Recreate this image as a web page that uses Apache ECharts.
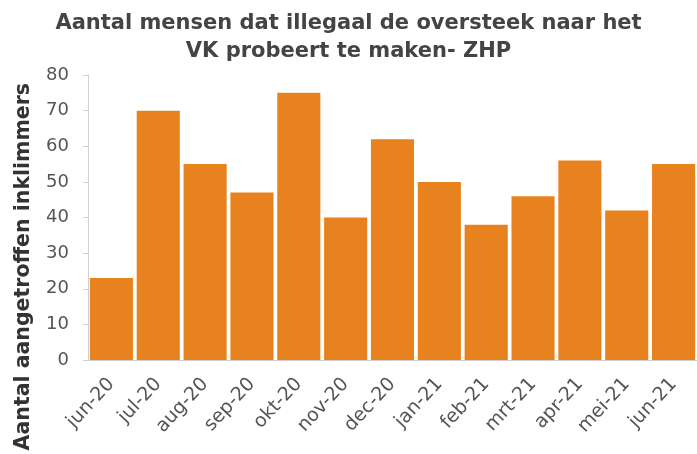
<!DOCTYPE html>
<html>
<head>
<meta charset="utf-8">
<script src="https://cdn.jsdelivr.net/npm/echarts@6/dist/echarts.min.js"></script>
<style>
  html, body { margin: 0; padding: 0; background: #fff; }
  #chart { width: 697px; height: 454px; }
</style>
</head>
<body>
<div id="chart"></div>
<script>
const months = ["jun-20", "jul-20", "aug-20", "sep-20", "okt-20", "nov-20", "dec-20", "jan-21", "feb-21", "mrt-21", "apr-21", "mei-21", "jun-21"];
const inklimmers = [23, 70, 55, 47, 75, 40, 62, 50, 38, 46, 56, 42, 55];
const yName = "Aantal aangetroffen inklimmers";

const chart = echarts.init(document.getElementById("chart"));
chart.setOption({
  animation: false,
  title: {
    text: "Aantal mensen dat illegaal de oversteek naar het\nVK probeert te maken- ZHP",
    left: "center",
    top: 5,
    textStyle: { fontFamily: "DejaVu Sans", fontWeight: "bold", fontSize: 21, color: "#444", lineHeight: 28 }
  },
  // y-axis title sits lower than the plot centre in the original
  graphic: [
    {
      type: "text",
      left: 13,
      top: 83,
      rotation: Math.PI / 2,
      style: {
        text: yName,
        fontFamily: "DejaVu Sans",
        fontWeight: "bold",
        fontSize: 20.5,
        fill: "#333"
      }
    }
  ],
  grid: { left: 88, right: 0, top: 75, bottom: 94 },
  xAxis: {
    type: "category",
    data: months,
    axisLine: { lineStyle: { color: "#d0d0d0" } },
    axisTick: { lineStyle: { color: "#d0d0d0" }, length: 5 },
    axisLabel: { rotate: 47, fontFamily: "DejaVu Sans", fontSize: 19, color: "#555", margin: 21 }
  },
  yAxis: {
    type: "value",
    min: 0,
    max: 80,
    interval: 10,
    axisLine: { show: true, lineStyle: { color: "#d0d0d0" } },
    axisTick: { show: true, lineStyle: { color: "#d0d0d0" }, length: 5 },
    splitLine: { show: false },
    axisLabel: { fontFamily: "DejaVu Sans", fontSize: 18, color: "#555", margin: 19 }
  },
  series: [
    {
      type: "bar",
      data: inklimmers,
      barCategoryGap: "8%",
      itemStyle: { color: "#e8821e" }
    }
  ]
});
</script>
</body>
</html>
